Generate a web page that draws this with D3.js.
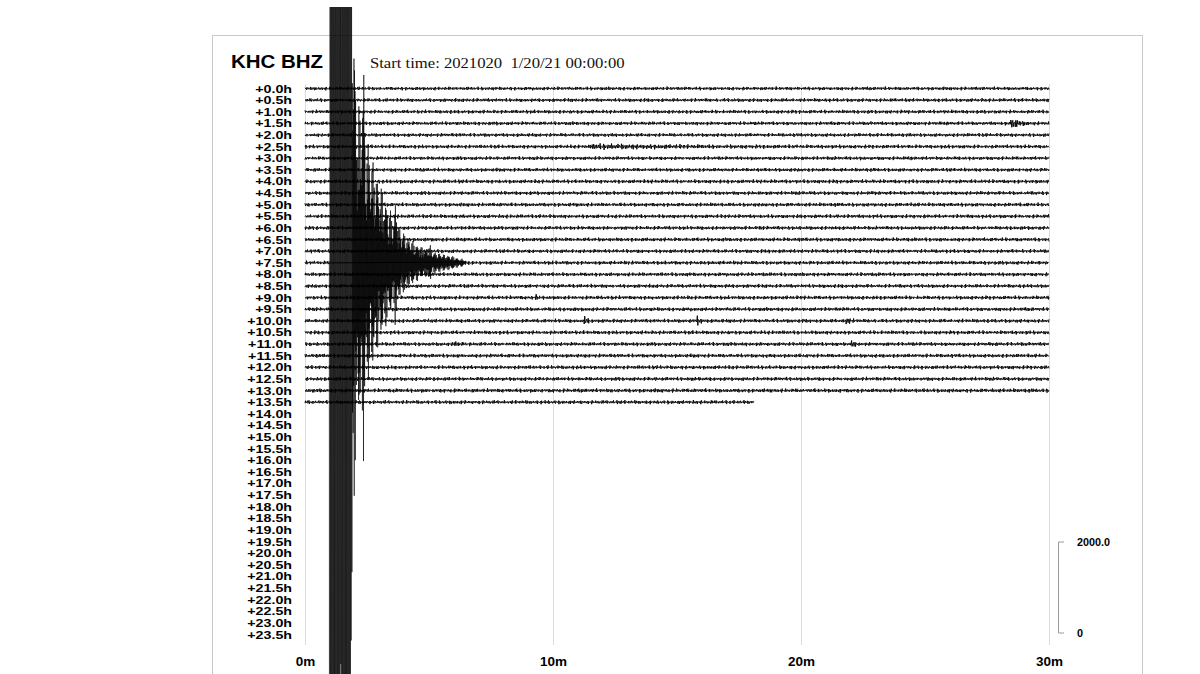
<!DOCTYPE html>
<html><head><meta charset="utf-8">
<script src="https://cdn.jsdelivr.net/npm/d3@7"></script>
<style>body{margin:0;background:#fff;overflow:hidden} svg{display:block} text{white-space:pre}</style>
</head><body><svg id="c" width="1200" height="674"></svg>
<script>
// ---------- data ----------
const stationTitle = "KHC BHZ";
const startText = "Start time: 2021020  1/20/21 00:00:00";
const rowLabels = ["+0.0h","+0.5h","+1.0h","+1.5h","+2.0h","+2.5h","+3.0h","+3.5h","+4.0h","+4.5h",
  "+5.0h","+5.5h","+6.0h","+6.5h","+7.0h","+7.5h","+8.0h","+8.5h","+9.0h","+9.5h",
  "+10.0h","+10.5h","+11.0h","+11.5h","+12.0h","+12.5h","+13.0h","+13.5h","+14.0h","+14.5h",
  "+15.0h","+15.5h","+16.0h","+16.5h","+17.0h","+17.5h","+18.0h","+18.5h","+19.0h","+19.5h",
  "+20.0h","+20.5h","+21.0h","+21.5h","+22.0h","+22.5h","+23.0h","+23.5h"];
const minuteTicks = [0, 10, 20, 30];
const minuteLabels = ["0m", "10m", "20m", "30m"];
const scaleTicks = [0, 2000];
const scaleTickLabels = ["0", "2000.0"];

// rows that have a trace, where each ends (minutes) and its background noise (counts)
const traceRows = rowLabels.slice(0, 28);
const traceEnd = [30,30,30,30,30,30,30,30,30,30,30,30,30,30,30,30,30,30,30,30,30,30,30,30,30,30,30,18.1];
const noiseCounts = [44,46,46,46,46,46,46,46,48,48,48,48,48,48,48,48,48,48,48,48,48,48,48,48,48,48,50,48];

// small local events: row, onset minute, amplitude (counts), decay (minutes)
const eventRow   = ["+1.5h","+2.5h","+9.0h","+10.0h","+10.0h","+10.0h","+11.0h","+11.0h"];
const eventMin   = [28.45, 11.5, 9.3, 11.25, 15.8, 21.8, 6.0, 22.0];
const eventAmp   = [150, 40, 70, 150, 110, 130, 130, 110];
const eventDecay = [0.25, 3.0, 0.08, 0.08, 0.1, 0.1, 0.08, 0.1];

// main earthquake in row +7.5h: envelope (counts) vs minute
const quakeRow = "+7.5h";
const quakeMin = [0.98, 1.0, 1.16, 1.2, 1.24, 1.41, 1.45, 1.49, 1.78, 1.86, 1.95, 2.05, 2.12, 2.15, 2.18, 2.4, 2.7, 3.0, 3.4, 3.8, 4.2, 4.6, 5.0, 5.5, 6.0, 6.4];
const quakeAmp = [0, 45000, 45000, 13000, 45000, 45000, 14000, 45000, 45000, 12000, 6500, 3800, 3400, 4300, 3300, 3000, 2300, 1750, 1150, 740, 500, 330, 230, 150, 90, 0];

// ---------- drawing ----------
const svg = d3.select("#c");
const x = d3.scaleLinear().domain([0, 30]).range([305, 1049]);
const y = d3.scalePoint().domain(rowLabels).range([88.5, 634.5]);
const amp = d3.scaleLinear().domain([0, 2000]).range([0, 91]);   // counts -> px
const quakeEnv = d3.scaleLinear().domain(quakeMin).range(quakeAmp).clamp(true);

// frame
svg.append("rect").attr("x", 212.5).attr("y", 35.5).attr("width", 930).attr("height", 700)
  .attr("fill", "none").attr("stroke", "#c9c9c9").attr("stroke-width", 1);

// title
svg.append("text").attr("transform", "translate(231,68) scale(1.17,1)")
  .attr("font-family", "Liberation Sans, Arial, sans-serif").attr("font-weight", "bold")
  .attr("font-size", 17.5).attr("fill", "#000").text(stationTitle);
svg.append("text").attr("transform", "translate(370,68) scale(1.11,1)")
  .attr("xml:space", "preserve")
  .attr("font-family", "Liberation Serif, Times New Roman, serif")
  .attr("font-size", 15).attr("fill", "#111").text(startText);

// minute grid + labels
const xAxis = d3.axisBottom(x).tickValues(minuteTicks).tickFormat((d, i) => minuteLabels[i])
  .tickSize(-561).tickPadding(11);
const gx = svg.append("g").attr("transform", "translate(0,645)").call(xAxis);
gx.select(".domain").remove();
gx.selectAll(".tick line").attr("stroke", "#dcdcdc").attr("stroke-width", 1);
gx.selectAll(".tick text").attr("font-family", "Liberation Sans, Arial, sans-serif")
  .attr("font-weight", "bold").attr("font-size", 13.5).attr("fill", "#000");

// row labels
const gy = svg.append("g");
gy.selectAll("text").data(rowLabels).join("text")
  .attr("transform", d => `translate(292,${y(d) + 4}) scale(1.25,1)`)
  .attr("text-anchor", "end")
  .attr("font-family", "Liberation Sans, Arial, sans-serif").attr("font-weight", "bold")
  .attr("font-size", 11.4).attr("fill", "#000").text(d => d);

// scale bar
const sb = svg.append("g").attr("transform", "translate(0,633)");
sb.append("path")
  .attr("d", `M1064,${-amp(2000)}H1058.5V0H1064`)
  .attr("fill", "none").attr("stroke", "#9a9a9a").attr("stroke-width", 1);
sb.selectAll("text").data(scaleTicks).join("text")
  .attr("x", 1077).attr("y", d => -amp(d) + 4)
  .attr("font-family", "Liberation Sans, Arial, sans-serif").attr("font-weight", "bold")
  .attr("font-size", 10.8).attr("fill", "#000")
  .text((d, i) => scaleTickLabels[i]);

// clip for traces
svg.append("clipPath").attr("id", "clip").append("rect")
  .attr("x", 0).attr("y", 7).attr("width", 1200).attr("height", 700);

// deterministic oscillation carriers used to draw a wiggle around an envelope
function carrier(k, s) {
  const a = k + s * 97.3;
  return 0.5 * Math.sin(a * 1.913) + 0.28 * Math.sin(a * 2.771 + 1.7)
       + 0.22 * Math.sin(a * 0.613 + 0.4) * Math.sign(Math.sin(a * 3.1 + 0.2));
}
function quakeCarrier(k) {
  let m = 0.32 + 0.68 * Math.pow(Math.abs(Math.sin(k * 0.731) * Math.sin(k * 0.193 + 1.0)), 0.8);
  if (Math.sin(k * 0.0517 + 0.3) > 0.96) m *= 1.45;
  return (k % 2 ? 1 : -1) * m;
}

const line = d3.line().x(d => x(d[0])).y(d => d[1]);
const traces = svg.append("g").attr("clip-path", "url(#clip)");

traceRows.forEach((row, i) => {
  const y0 = y(row);
  const evs = eventRow.map((r, j) => j).filter(j => eventRow[j] === row);
  const isQuake = row === quakeRow;
  const noisePts = [];
  const quakePts = [];
  let k = 0;
  let t = 0;
  while (t <= traceEnd[i]) {
    let e = noiseCounts[i];
    for (const j of evs) {
      if (t >= eventMin[j]) e += eventAmp[j] * Math.exp(-(t - eventMin[j]) / eventDecay[j]);
    }
    const inQuake = isQuake && t > 0.97 && t < 6.5;
    if (inQuake) {
      quakePts.push([t, y0 - amp((quakeEnv(t) + e) * quakeCarrier(k))]);
      t += (t < 1.9) ? 0.016 : 0.011;
    } else {
      noisePts.push([t, y0 - amp(e * carrier(k, i))]);
      t += 0.02;
    }
    k++;
  }
  traces.append("path").attr("d", line(noisePts))
    .attr("fill", "none").attr("stroke", "#000").attr("stroke-width", 0.95)
    .attr("stroke-linejoin", "round");
  if (quakePts.length) {
    traces.append("path").attr("d", line(quakePts))
      .attr("fill", "none").attr("stroke", "#000").attr("stroke-width", 0.6)
      .attr("stroke-linejoin", "round");
  }
});
</script></body></html>
